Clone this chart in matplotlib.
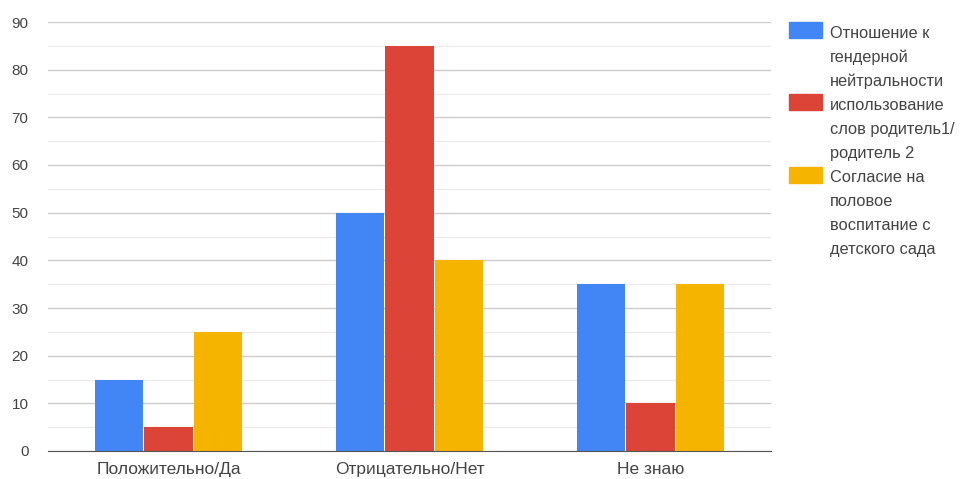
import numpy as np
import matplotlib.pyplot as plt
from matplotlib.patches import Rectangle

plt.rcParams['font.family'] = ['Liberation Sans', 'DejaVu Sans']

categories = ['Положительно/Да', 'Отрицательно/Нет', 'Не знаю']
series_names = [['Отношение к', 'гендерной', 'нейтральности'],
                ['использование', 'слов родитель1/', 'родитель 2'],
                ['Согласие на', 'половое', 'воспитание с', 'детского сада']]
attitude = [15, 50, 35]
parent_words = [5, 85, 10]
sex_education = [25, 40, 35]
colors = ['#4285F4', '#DB4437', '#F4B400']


def main():
    W, H = 964, 479
    fig = plt.figure(figsize=(W / 100, H / 100), dpi=100)
    ax = fig.add_axes([48 / W, 1 - 451 / H, 723 / W, 429 / H])

    x = np.arange(len(categories))
    width = 0.2
    step = 0.207
    values = [attitude, parent_words, sex_education]
    for i, (vals, col) in enumerate(zip(values, colors)):
        ax.bar(x + (i - 1) * step, vals, width, color=col, zorder=3)

    ax.set_xlim(-0.5, 2.5)
    ax.set_ylim(0, 90)
    ax.set_yticks(np.arange(0, 91, 10))
    ax.set_yticks(np.arange(5, 90, 10), minor=True)
    ax.grid(axis='y', which='major', color='#cccccc', linewidth=1, zorder=0)
    ax.grid(axis='y', which='minor', color='#ebebeb', linewidth=1, zorder=0)
    ax.set_xticks(x)
    ax.set_xticklabels(categories)
    ax.tick_params(axis='both', which='both', length=0, colors='#444444')
    ax.tick_params(axis='y', pad=14, labelsize=11)
    ax.tick_params(axis='x', pad=8, labelsize=12.5)
    for s in ['top', 'right', 'left']:
        ax.spines[s].set_visible(False)
    ax.spines['bottom'].set_color('#555555')
    ax.spines['bottom'].set_zorder(4)

    # legend on the right, swatch aligned with the first line of each label
    y = 33
    line_h = 24.1
    for lines, col in zip(series_names, colors):
        fig.patches.append(Rectangle((789 / W, 1 - (y + 5) / H), 33 / W, 16 / H,
                                     transform=fig.transFigure, color=col))
        for line in lines:
            fig.text(830 / W, 1 - y / H, line, fontsize=11.8, color='#444444',
                     va='center', ha='left')
            y += line_h

    fig.savefig('out.png', dpi=100)


if __name__ == '__main__':
    main()
